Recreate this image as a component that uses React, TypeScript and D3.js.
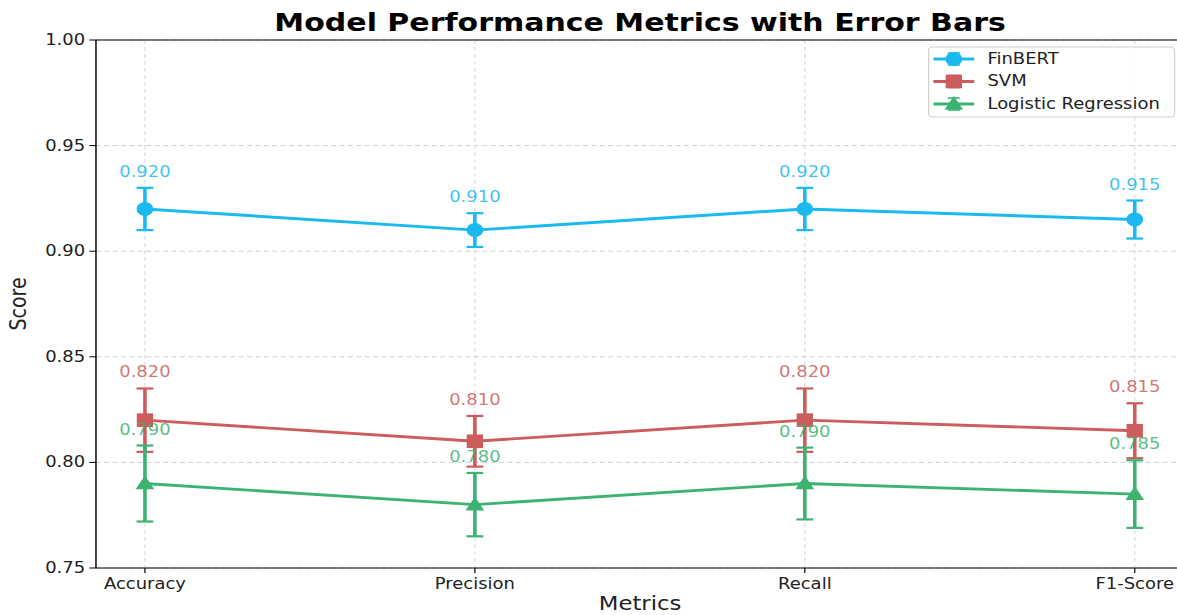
import React from 'react';
import * as d3 from 'd3';

const categories = ['Accuracy', 'Precision', 'Recall', 'F1-Score'];
const finbertValues = [0.92, 0.91, 0.92, 0.915];
const finbertErrors = [0.01, 0.008, 0.01, 0.009];
const svmValues = [0.82, 0.81, 0.82, 0.815];
const svmErrors = [0.015, 0.012, 0.015, 0.013];
const lrValues = [0.79, 0.78, 0.79, 0.785];
const lrErrors = [0.018, 0.015, 0.017, 0.016];
const yTicks = [0.75, 0.8, 0.85, 0.9, 0.95, 1.0];

const series = [
  { name: 'FinBERT', values: finbertValues, errors: finbertErrors, color: '#1AB9F0', marker: 'circle' },
  { name: 'SVM', values: svmValues, errors: svmErrors, color: '#CD5C5C', marker: 'square' },
  { name: 'Logistic Regression', values: lrValues, errors: lrErrors, color: '#3CB371', marker: 'triangle' },
];

const W = 981; // internal width, stretched to 1177
const H = 615;
const FONT = 'DejaVu Sans';

function Marker({ type, x, y, color }: { type: string; x: number; y: number; color: string }) {
  if (type === 'circle') return <circle cx={x} cy={y} r={7} fill={color} />;
  if (type === 'square') return <rect x={x - 6.8} y={y - 6.8} width={13.6} height={13.6} fill={color} />;
  return <path d={`M${x},${y - 8} L${x + 7.8},${y + 5.8} L${x - 7.8},${y + 5.8} Z`} fill={color} />;
}

export default function App() {
  const left = 80, right = 987, top = 40, bottom = 568;
  const x = d3.scalePoint<string>().domain(categories).range([120.8, 945.8]);
  const y = d3.scaleLinear().domain([0.75, 1.0]).range([bottom, top]);
  const line = d3.line<number>().x((_, i) => x(categories[i])!).y((d) => y(d));

  return (
    <svg
      width={1177}
      height={615}
      viewBox={`0 0 ${W} ${H}`}
      preserveAspectRatio="none"
      style={{ position: 'absolute', left: 0, top: 0, display: 'block', background: '#fff' }}
      fontFamily={FONT}
    >
      <rect x={0} y={0} width={W} height={H} fill="#fff" />
      {/* grid */}
      {yTicks.map((t) => (
        <line key={'gy' + t} x1={left} x2={right} y1={y(t)} y2={y(t)} stroke="#c8c8c8" strokeWidth={0.8} strokeDasharray="4,3" />
      ))}
      {categories.map((c) => (
        <line key={'gx' + c} x1={x(c)} x2={x(c)} y1={top} y2={bottom} stroke="#c8c8c8" strokeWidth={0.7} strokeDasharray="4,3" />
      ))}
      {/* series */}
      {series.map((s) => (
        <g key={s.name}>
          <path d={line(s.values)!} fill="none" stroke={s.color} strokeWidth={2.9} />
          {s.values.map((v, i) => {
            const cx = x(categories[i])!;
            const y1 = y(v + s.errors[i]);
            const y2 = y(v - s.errors[i]);
            return (
              <g key={i}>
                <line x1={cx} x2={cx} y1={y1} y2={y2} stroke={s.color} strokeWidth={3} />
                <line x1={cx - 7} x2={cx + 7} y1={y1} y2={y1} stroke={s.color} strokeWidth={2.2} />
                <line x1={cx - 7} x2={cx + 7} y1={y2} y2={y2} stroke={s.color} strokeWidth={2.2} />
                <Marker type={s.marker} x={cx} y={y(v)} color={s.color} />
              </g>
            );
          })}
        </g>
      ))}
      {/* value labels */}
      {series.map((s) =>
        s.values.map((v, i) => (
          <text
            key={s.name + 'l' + i}
            x={x(categories[i])}
            y={y(v + s.errors[i]) - 11}
            textAnchor="middle"
            fontSize={15}
            fill={s.color}
            fillOpacity={0.85}
          >
            {v.toFixed(3)}
          </text>
        ))
      )}
      {/* spines */}
      <line x1={left} x2={left} y1={top} y2={bottom} stroke="#000" strokeWidth={1.2} />
      <line x1={left} x2={right} y1={bottom} y2={bottom} stroke="#000" strokeWidth={1.2} />
      <line x1={left} x2={right} y1={top} y2={top} stroke="#000" strokeWidth={1.2} />
      <line x1={right} x2={right} y1={top} y2={bottom} stroke="#000" strokeWidth={1.2} />
      {/* y ticks */}
      {yTicks.map((t) => (
        <g key={'yt' + t}>
          <line x1={left - 5.5} x2={left} y1={y(t)} y2={y(t)} stroke="#000" strokeWidth={1} />
          <text x={left - 9} y={y(t)} textAnchor="end" dominantBaseline="central" fontSize={15} fill="#222">
            {t.toFixed(2)}
          </text>
        </g>
      ))}
      {/* x ticks */}
      {categories.map((c) => (
        <g key={'xt' + c}>
          <line x1={x(c)} x2={x(c)} y1={bottom} y2={bottom + 5} stroke="#000" strokeWidth={1} />
          <text x={x(c)} y={bottom + 21} textAnchor="middle" fontSize={15} fill="#222">
            {c}
          </text>
        </g>
      ))}
      {/* axis labels */}
      <text x={(left + right) / 2} y={610} textAnchor="middle" fontSize={19} fill="#222">
        Metrics
      </text>
      <text
        transform={`translate(22,${(top + bottom) / 2}) rotate(-90)`}
        textAnchor="middle"
        fontSize={19}
        fill="#222"
      >
        Score
      </text>
      {/* title */}
      <text x={(left + right) / 2} y={31} textAnchor="middle" fontSize={25} fontWeight="bold" fill="#000">
        Model Performance Metrics with Error Bars
      </text>
      {/* legend */}
      <g>
        <rect x={774} y={47} width={205} height={70} rx={3} fill="#fff" fillOpacity={0.85} stroke="#d0d0d0" strokeWidth={1} />
        {series.map((s, i) => {
          const cy = 59 + i * 22.5;
          return (
            <g key={'lg' + s.name}>
              <line x1={778} x2={812} y1={cy} y2={cy} stroke={s.color} strokeWidth={2.9} />
              <line x1={795} x2={795} y1={cy - 6} y2={cy + 6} stroke={s.color} strokeWidth={2.4} />
              <line x1={790} x2={800} y1={cy - 6} y2={cy - 6} stroke={s.color} strokeWidth={1.6} />
              <line x1={790} x2={800} y1={cy + 6} y2={cy + 6} stroke={s.color} strokeWidth={1.6} />
              <Marker type={s.marker} x={795} y={cy} color={s.color} />
              <text x={823} y={cy} dominantBaseline="central" fontSize={15} fill="#222">
                {s.name}
              </text>
            </g>
          );
        })}
      </g>
    </svg>
  );
}
